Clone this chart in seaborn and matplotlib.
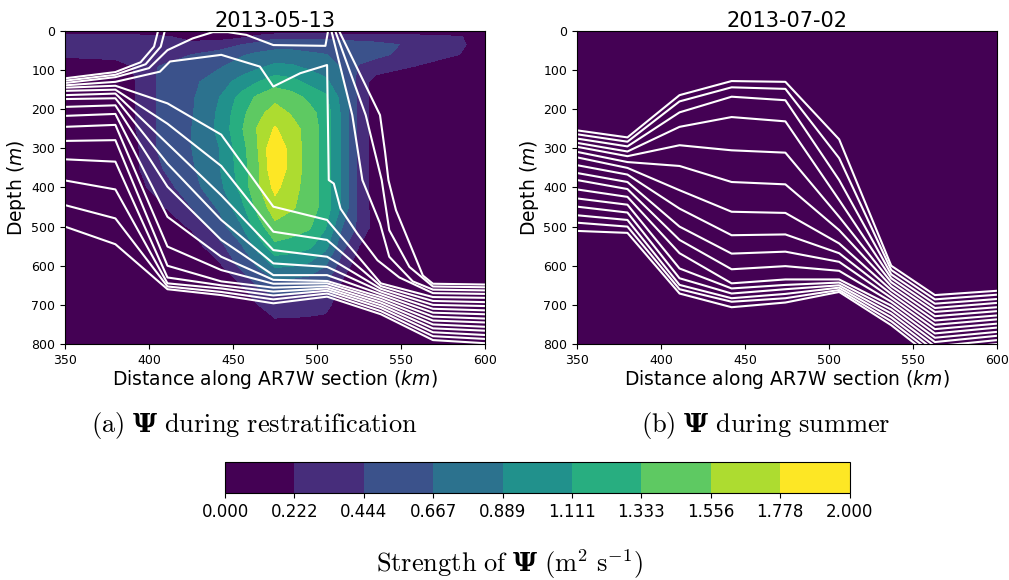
import numpy as np
import matplotlib
matplotlib.use('Agg')
import matplotlib.pyplot as plt
import seaborn as sns

# ---------------- psi strength, panel (a) 2013-05-13 -----------------
PSI_X = [350, 380, 393, 405, 425, 442, 455, 465, 475, 485, 495, 505, 515, 525, 535, 560, 585, 600]
PSI_Z = [0, 15, 35, 60, 90, 130, 170, 210, 250, 300, 350, 400, 450, 500, 550, 600, 650, 700, 760, 800]
PSI_A = [
    [0.04, 0.04, 0.04, 0.04, 0.04, 0.04, 0.04, 0.04, 0.04, 0.04, 0.04, 0.04, 0.04, 0.04, 0.04, 0.04, 0.04, 0.02],
    [0.31, 0.33, 0.31, 0.27, 0.16, 0.13, 0.18, 0.29, 0.40, 0.40, 0.40, 0.40, 0.38, 0.36, 0.33, 0.31, 0.24, 0.07],
    [0.33, 0.36, 0.36, 0.33, 0.27, 0.33, 0.44, 0.51, 0.56, 0.56, 0.54, 0.53, 0.52, 0.51, 0.50, 0.40, 0.26, 0.11],
    [0.26, 0.27, 0.31, 0.40, 0.44, 0.53, 0.64, 0.71, 0.76, 0.76, 0.71, 0.67, 0.62, 0.56, 0.49, 0.36, 0.22, 0.09],
    [0.11, 0.16, 0.24, 0.44, 0.56, 0.64, 0.76, 0.84, 0.93, 0.91, 0.84, 0.76, 0.64, 0.42, 0.36, 0.21, 0.11, 0.07],
    [0.09, 0.13, 0.23, 0.46, 0.61, 0.79, 0.97, 1.11, 1.24, 1.18, 1.06, 0.94, 0.71, 0.36, 0.11, 0.04, 0.02, 0.02],
    [0.09, 0.13, 0.23, 0.46, 0.63, 0.89, 1.19, 1.38, 1.49, 1.43, 1.29, 1.16, 0.80, 0.38, 0.11, 0.02, 0.01, 0.01],
    [0.09, 0.13, 0.23, 0.46, 0.64, 0.93, 1.27, 1.49, 1.66, 1.53, 1.41, 1.24, 0.84, 0.38, 0.11, 0.02, 0.01, 0.01],
    [0.08, 0.12, 0.23, 0.46, 0.66, 0.94, 1.31, 1.58, 1.80, 1.64, 1.47, 1.24, 0.84, 0.38, 0.11, 0.02, 0.01, 0.01],
    [0.07, 0.11, 0.20, 0.45, 0.66, 0.89, 1.24, 1.56, 1.99, 1.67, 1.47, 1.24, 0.84, 0.38, 0.11, 0.02, 0.01, 0.01],
    [0.07, 0.11, 0.20, 0.41, 0.63, 0.88, 1.22, 1.52, 1.99, 1.68, 1.47, 1.24, 0.84, 0.38, 0.11, 0.02, 0.01, 0.01],
    [0.04, 0.09, 0.16, 0.29, 0.58, 0.82, 1.18, 1.52, 1.84, 1.63, 1.47, 1.24, 0.84, 0.38, 0.11, 0.02, 0.01, 0.01],
    [0.02, 0.06, 0.10, 0.16, 0.44, 0.70, 1.04, 1.41, 1.68, 1.58, 1.46, 1.24, 0.84, 0.38, 0.11, 0.02, 0.01, 0.01],
    [0.01, 0.03, 0.07, 0.11, 0.24, 0.57, 0.87, 1.24, 1.50, 1.44, 1.37, 1.13, 0.67, 0.39, 0.13, 0.02, 0.01, 0.01],
    [0.00, 0.01, 0.02, 0.04, 0.11, 0.38, 0.64, 0.98, 1.28, 1.24, 1.16, 0.96, 0.51, 0.22, 0.07, 0.01, 0.00, 0.00],
    [0.00, 0.00, 0.01, 0.02, 0.07, 0.18, 0.51, 0.69, 0.92, 0.90, 0.84, 0.67, 0.33, 0.11, 0.02, 0.00, 0.00, 0.00],
    [0.00, 0.00, 0.00, 0.01, 0.02, 0.09, 0.21, 0.47, 0.56, 0.54, 0.51, 0.45, 0.18, 0.04, 0.01, 0.00, 0.00, 0.00],
    [0.00, 0.00, 0.00, 0.00, 0.00, 0.04, 0.13, 0.22, 0.34, 0.33, 0.31, 0.29, 0.09, 0.02, 0.00, 0.00, 0.00, 0.00],
    [0.00, 0.00, 0.00, 0.00, 0.00, 0.00, 0.02, 0.07, 0.13, 0.13, 0.13, 0.11, 0.02, 0.00, 0.00, 0.00, 0.00, 0.00],
    [0.00, 0.00, 0.00, 0.00, 0.00, 0.00, 0.00, 0.00, 0.00, 0.00, 0.00, 0.00, 0.00, 0.00, 0.00, 0.00, 0.00, 0.00],
]

# panel (b) 2013-07-02: psi is weak everywhere
PSI_B_X = [350, 475, 600]
PSI_B_Z = [0, 400, 800]
PSI_B = [
    [0.02, 0.03, 0.02],
    [0.03, 0.05, 0.02],
    [0.01, 0.02, 0.01],
]

# ---------------- isopycnal depths (m) at the stations -----------------
ST_A = [350, 380, 411, 443, 474, 506, 538, 569, 600]
ISO_A = [
    [145, 140, 185, 265, 449, 483, 645, 680, 682],
    [153, 150, 237, 345, 513, 534, 652, 690, 693],
    [164, 160, 288, 420, 560, 577, 659, 700, 703],
    [174, 172, 339, 483, 594, 603, 666, 710, 714],
    [194, 190, 398, 534, 624, 624, 673, 720, 724],
    [217, 212, 475, 577, 636, 639, 680, 730, 735],
    [245, 240, 551, 611, 646, 645, 687, 740, 745],
    [281, 279, 600, 640, 656, 652, 694, 750, 756],
    [328, 334, 630, 650, 666, 658, 701, 760, 766],
    [382, 405, 645, 658, 676, 664, 708, 770, 777],
    [445, 479, 653, 667, 686, 671, 716, 780, 787],
    [500, 545, 660, 675, 696, 679, 724, 790, 798],
]
# outcropping / folded isopycnals of panel (a)
OUT_A_X = [350, 380, 395, 403, 406]
OUT_A_Z = [121, 105, 80, 40, -10]
OUT_B_X = [350, 380, 398, 407, 410]
OUT_B_Z = [127, 112, 85, 40, -10]
DOME_C_X = [350, 380, 400, 411, 426, 438, 447, 458, 474, 505, 507]
DOME_C_Z = [133, 118, 95, 49, 19, 3, 3, 10, 36, 38, -10]
DOME_D_X = [350, 380, 406.5, 412.5, 443, 466, 474, 490, 506, 507, 510, 514, 524, 536, 549, 569, 600]
DOME_D_Z = [139, 130, 104, 78, 61, 91, 142, 108, 87, 381, 390, 454, 518, 586, 630, 670, 672]
EAST_1_X = [508, 521, 527, 537.5, 543, 557, 569, 600]
EAST_1_Z = [-10, 215, 381, 492, 577, 640, 661, 663]
EAST_2_X = [510, 529, 538.5, 543, 555, 569, 600]
EAST_2_Z = [-10, 215, 381, 509, 603, 653, 655]
EAST_3_X = [512, 537.5, 540.5, 542.5, 547, 563, 569, 600]
EAST_3_Z = [-10, 215, 309, 381, 458, 625, 646, 648]

ST_B = [350, 380, 411, 442, 474, 506, 537, 563, 600]
ISO_B = [
    [254, 272, 164, 128, 130, 277, 600, 675, 664],
    [264, 283, 180, 144, 148, 325, 611, 686, 674],
    [275, 295, 208, 168, 177, 381, 622, 697, 685],
    [286, 308, 245, 220, 231, 432, 632, 708, 695],
    [296, 320, 292, 305, 311, 475, 642, 718, 706],
    [309, 335, 345, 386, 392, 509, 652, 729, 716],
    [323, 350, 407, 462, 465, 543, 662, 740, 727],
    [343, 367, 454, 522, 520, 568, 672, 751, 737],
    [363, 386, 500, 569, 564, 590, 682, 762, 748],
    [381, 404, 534, 609, 601, 613, 692, 773, 758],
    [405, 424, 568, 645, 635, 635, 702, 784, 769],
    [428, 444, 607, 658, 649, 643, 712, 795, 779],
    [449, 464, 632, 671, 660, 650, 722, 806, 790],
    [471, 483, 649, 683, 672, 656, 732, 817, 800],
    [490, 500, 660, 692, 683, 662, 742, 828, 811],
    [511, 516, 671, 706, 694, 667, 752, 839, 821],
]

DATES = ['2013-05-13', '2013-07-02']
CAPTIONS = [r'$\mathrm{(a)}\ \mathbf{\Psi}\ \mathrm{during\ restratification}$',
            r'$\mathrm{(b)}\ \mathbf{\Psi}\ \mathrm{during\ summer}$']
LEVELS = np.linspace(0, 2, 10)
# one viridis colour per band, first band = darkest, last band = yellow
BAND_COLORS = plt.get_cmap('viridis')(np.linspace(0, 1, len(LEVELS) - 1))

# latex-like captions: computer modern text, bold serif Psi
plt.rcParams['mathtext.rm'] = 'cmr10'
plt.rcParams['mathtext.bf'] = 'DejaVu Serif:bold'
plt.rcParams['mathtext.it'] = 'cmmi10'

fig = plt.figure(figsize=(10.09, 5.80), dpi=100)
ax_a = fig.add_axes([0.0644, 0.4069, 0.4163, 0.5397])
ax_b = fig.add_axes([0.5719, 0.4069, 0.4163, 0.5397])


def iso(ax, x, z):
    sns.lineplot(x=x, y=z, sort=False, estimator=None, color='white', linewidth=1.5, ax=ax)


cf = ax_a.contourf(PSI_X, PSI_Z, np.array(PSI_A), levels=LEVELS, colors=BAND_COLORS)
ax_b.contourf(PSI_B_X, PSI_B_Z, np.array(PSI_B), levels=LEVELS, colors=BAND_COLORS)

for row in ISO_A:
    iso(ax_a, ST_A, row)
for xs, zs in [(OUT_A_X, OUT_A_Z), (OUT_B_X, OUT_B_Z), (DOME_C_X, DOME_C_Z), (DOME_D_X, DOME_D_Z),
               (EAST_1_X, EAST_1_Z), (EAST_2_X, EAST_2_Z), (EAST_3_X, EAST_3_Z)]:
    iso(ax_a, xs, zs)
for row in ISO_B:
    iso(ax_b, ST_B, row)

for ax, date, cap, xc in zip([ax_a, ax_b], DATES, CAPTIONS, [0.252, 0.759]):
    ax.set_xlim(350, 600)
    ax.set_ylim(800, 0)
    ax.set_xticks([350, 400, 450, 500, 550, 600])
    ax.set_yticks(range(0, 801, 100))
    ax.tick_params(labelsize=9)
    ax.set_title(date, fontsize=15, pad=3)
    ax.set_xlabel(r'Distance along AR7W section ($km$)', fontsize=13.5, labelpad=1)
    ax.set_ylabel(r'Depth ($m$)', fontsize=13.5, labelpad=2)
    fig.text(xc, 0.267, cap, ha='center', va='center', fontsize=19, math_fontfamily='custom')

cax = fig.add_axes([0.223, 0.150, 0.619, 0.0534])
cb = fig.colorbar(cf, cax=cax, orientation='horizontal', ticks=LEVELS, format='%.3f')
cb.ax.tick_params(labelsize=12)
fig.text(0.505, 0.028, r'$\mathrm{Strength\ of}\ \mathbf{\Psi}\ (\mathrm{m^2\ s^{-1}})$',
         ha='center', va='center', fontsize=19, math_fontfamily='custom')

fig.savefig('out.png', dpi=100)
